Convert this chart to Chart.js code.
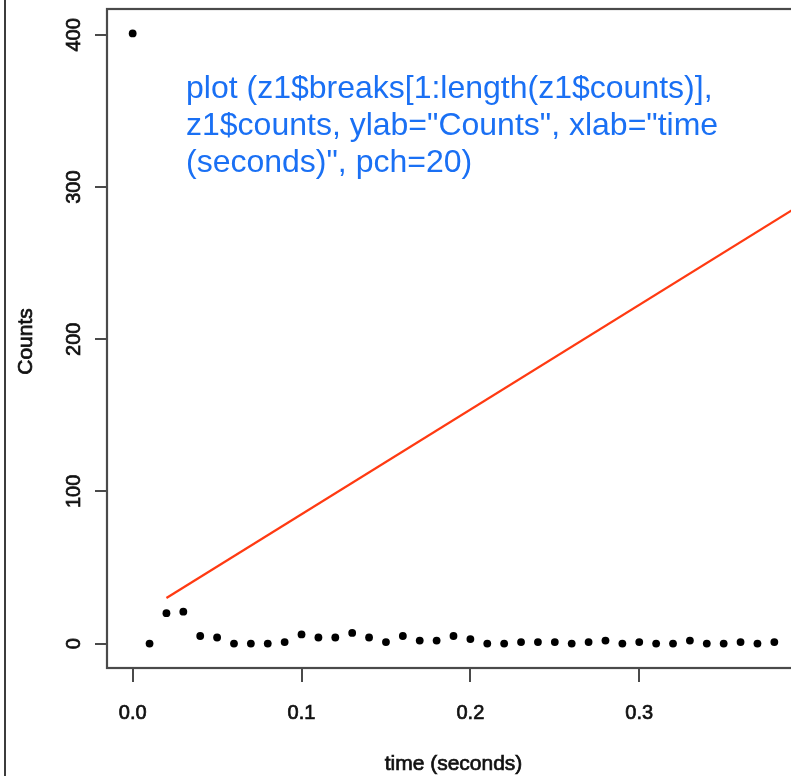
<!DOCTYPE html>
<html>
<head>
<meta charset="utf-8">
<title>Counts vs time</title>
<script src="https://cdn.jsdelivr.net/npm/chart.js@4.4.1/dist/chart.umd.min.js"></script>
<style>
  html, body { margin: 0; padding: 0; background: #ffffff; overflow: hidden; }
  #wrap { width: 820px; height: 776px; }
  canvas { display: block; }
</style>
</head>
<body>
<div id="wrap"><canvas id="chart" width="820" height="776"></canvas></div>
<script>
// Histogram break positions (seconds) and the counts in each bin
const timeBreaks = [0.00, 0.01, 0.02, 0.03, 0.04, 0.05, 0.06, 0.07, 0.08, 0.09,
                    0.10, 0.11, 0.12, 0.13, 0.14, 0.15, 0.16, 0.17, 0.18, 0.19,
                    0.20, 0.21, 0.22, 0.23, 0.24, 0.25, 0.26, 0.27, 0.28, 0.29,
                    0.30, 0.31, 0.32, 0.33, 0.34, 0.35, 0.36, 0.37, 0.38];
const counts = [401, 0, 20, 21, 5, 4, 0, 0, 0, 1,
                6, 4, 4, 7, 4, 1, 5, 2, 2, 5,
                3, 0, 0, 1, 1, 1, 0, 1, 2, 0,
                1, 0, 0, 2, 0, 0, 1, 0, 1];

// Red trend line end points
const trendX = [0.02, 0.395];
const trendY = [30, 288];

// Axis ticks and their labels
const xTicks = [0, 0.1, 0.2, 0.3];
const xTickLabels = ['0.0', '0.1', '0.2', '0.3'];
const yTicks = [0, 100, 200, 300, 400];
const yTickLabels = ['0', '100', '200', '300', '400'];

const xTitle = 'time (seconds)';
const yTitle = 'Counts';
const noteLines = [
  'plot (z1$breaks[1:length(z1$counts)],',
  'z1$counts, ylab="Counts", xlab="time',
  '(seconds)", pch=20)'
];

// R-style axis ranges: data range widened by 4% on each side
function rRange(vals) {
  const lo = Math.min(...vals), hi = Math.max(...vals);
  const d = (hi - lo) * 0.04;
  return [lo - d, hi + d];
}
const [xMin, xMax] = rRange(timeBreaks);
const [yMin, yMax] = rRange(counts);

const FONT = "'Liberation Sans', Arial, Helvetica, sans-serif";
const AXIS_COLOR = '#4a4a4a';
const TEXT_COLOR = '#111111';

// Filled text with a thin outline in the same colour for a heavier stroke
function heavyText(ctx, text, x, y) {
  ctx.fillText(text, x, y);
  ctx.strokeText(text, x, y);
}

// Draws the R-like box, outward ticks, rotated y labels, titles and the note
const rAxes = {
  id: 'rAxes',
  beforeDraw(chart) {
    const ctx = chart.ctx;
    ctx.save();
    ctx.fillStyle = '#ffffff';
    ctx.fillRect(0, 0, chart.width, chart.height);
    // window edge on the left
    ctx.strokeStyle = '#3c3c3c';
    ctx.lineWidth = 2;
    ctx.beginPath();
    ctx.moveTo(5, 0);
    ctx.lineTo(5, chart.height);
    ctx.stroke();
    ctx.restore();
  },
  afterDraw(chart) {
    const { ctx, chartArea: a, scales: { x, y } } = chart;
    ctx.save();
    ctx.strokeStyle = AXIS_COLOR;
    ctx.lineWidth = 2.2;
    ctx.strokeRect(a.left, a.top, a.right - a.left, a.bottom - a.top);

    // tick marks
    ctx.lineWidth = 2;
    xTicks.forEach(v => {
      const px = Math.round(x.getPixelForValue(v));
      ctx.beginPath();
      ctx.moveTo(px, a.bottom);
      ctx.lineTo(px, a.bottom + 14);
      ctx.stroke();
    });
    yTicks.forEach(v => {
      const py = Math.round(y.getPixelForValue(v));
      ctx.beginPath();
      ctx.moveTo(a.left, py);
      ctx.lineTo(a.left - 12, py);
      ctx.stroke();
    });

    // tick labels
    ctx.fillStyle = TEXT_COLOR;
    ctx.strokeStyle = TEXT_COLOR;
    ctx.lineWidth = 0.7;
    ctx.font = '20px ' + FONT;
    ctx.textAlign = 'center';
    ctx.textBaseline = 'alphabetic';
    xTicks.forEach((v, i) => {
      heavyText(ctx, xTickLabels[i], x.getPixelForValue(v), a.bottom + 51);
    });
    yTicks.forEach((v, i) => {
      ctx.save();
      ctx.translate(a.left - 27, y.getPixelForValue(v));
      ctx.rotate(-Math.PI / 2);
      heavyText(ctx, yTickLabels[i], 0, 0);
      ctx.restore();
    });

    // axis titles
    ctx.font = '21px ' + FONT;
    heavyText(ctx, xTitle, (a.left + a.right) / 2, 770);
    ctx.save();
    ctx.translate(32, (a.top + a.bottom) / 2 + 3);
    ctx.rotate(-Math.PI / 2);
    heavyText(ctx, yTitle, 0, 0);
    ctx.restore();

    // code note
    ctx.fillStyle = '#1a70f4';
    ctx.font = '32px ' + FONT;
    ctx.textAlign = 'left';
    noteLines.forEach((t, i) => ctx.fillText(t, 186, 98 + i * 36.8));
    ctx.restore();
  }
};

new Chart(document.getElementById('chart'), {
  type: 'scatter',
  data: {
    datasets: [
      {
        label: 'counts',
        data: timeBreaks.map((t, i) => ({ x: t, y: counts[i] })),
        backgroundColor: '#000000',
        borderColor: '#000000',
        pointRadius: 3.9,
        pointBorderWidth: 0,
        showLine: false
      },
      {
        label: 'trend',
        data: trendX.map((t, i) => ({ x: t, y: trendY[i] })),
        borderColor: '#ff3a12',
        borderWidth: 2.2,
        pointRadius: 0,
        showLine: true,
        fill: false
      }
    ]
  },
  plugins: [rAxes],
  options: {
    responsive: false,
    animation: false,
    devicePixelRatio: 1,
    layout: { padding: { left: 107, top: 9, right: 20, bottom: 108 } },
    plugins: { legend: { display: false }, tooltip: { enabled: false } },
    scales: {
      x: { type: 'linear', min: xMin, max: xMax, display: false },
      y: { type: 'linear', min: yMin, max: yMax, display: false }
    }
  }
});
</script>
</body>
</html>
